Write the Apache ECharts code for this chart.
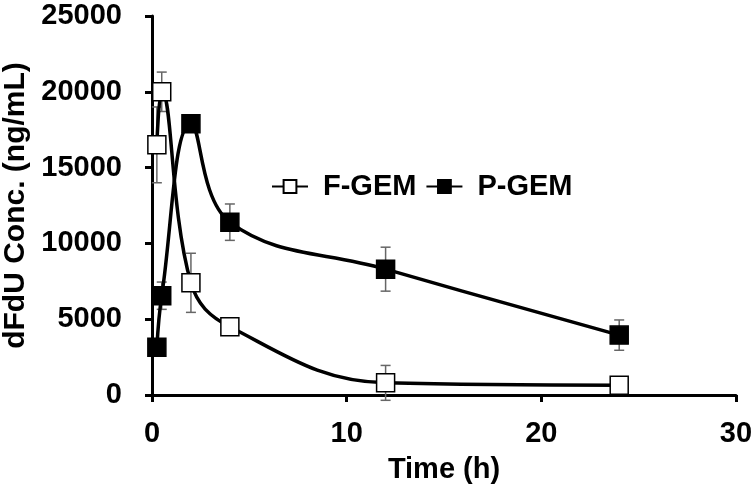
<!DOCTYPE html>
<html>
<head>
<meta charset="utf-8">
<script src="https://cdn.jsdelivr.net/npm/echarts@6/dist/echarts.min.js"></script>
<style>
  html, body { margin: 0; padding: 0; background: #fff; }
  #main { width: 755px; height: 491px; }
</style>
</head>
<body>
<div id="main"></div>
<script>
var chart = echarts.init(document.getElementById('main'));

// sampling times (h)
var times = [0.25, 0.5, 2, 4, 12, 24];
// mean concentrations and SD
var fGem = [16500, 20000, 7400, 4500, 800, 650];
var fGemErr = [2500, 1300, 1950, 300, 1150, 200];
var pGem = [3150, 6550, 17900, 11400, 8300, 3950];
var pGemErr = [400, 900, 400, 1200, 1450, 1000];

var xTicks = [0, 10, 20, 30];
var yTicks = [0, 5000, 10000, 15000, 20000, 25000];

function pairs(ys) {
    return times.map(function (t, i) { return [t, ys[i]]; });
}
function errData(ys, es) {
    return times.map(function (t, i) { return [t, ys[i] - es[i], ys[i] + es[i]]; });
}

function errorBar(params, api) {
    var lo = api.coord([api.value(0), api.value(1)]);
    var hi = api.coord([api.value(0), api.value(2)]);
    var cap = 5;
    var style = { stroke: '#666', lineWidth: 1.5 };
    return {
        type: 'group',
        children: [
            { type: 'line', shape: { x1: lo[0], y1: lo[1], x2: hi[0], y2: hi[1] }, style: style },
            { type: 'line', shape: { x1: lo[0] - cap, y1: lo[1], x2: lo[0] + cap, y2: lo[1] }, style: style },
            { type: 'line', shape: { x1: hi[0] - cap, y1: hi[1], x2: hi[0] + cap, y2: hi[1] }, style: style }
        ]
    };
}

var font = 'Liberation Sans, Arial, sans-serif';
var plain = function (v) { return String(v); };

option = {
    animation: false,
    backgroundColor: '#fff',
    grid: { left: 152, right: 19, top: 16, bottom: 96, outerBoundsMode: 'none', containLabel: false },
    legend: {
        left: 266,
        top: 167,
        itemWidth: 36,
        itemHeight: 16,
        itemGap: 9,
        textStyle: { fontFamily: font, fontWeight: 'bold', fontSize: 29, color: '#000', padding: [0, 0, 0, 10] },
        data: ['F-GEM', 'P-GEM']
    },
    xAxis: {
        type: 'value',
        min: xTicks[0],
        max: xTicks[xTicks.length - 1],
        interval: 10,
        name: 'Time (h)',
        nameLocation: 'middle',
        nameGap: 60,
        nameTextStyle: { fontFamily: font, fontWeight: 'bold', fontSize: 29, color: '#000' },
        axisLine: { lineStyle: { color: '#000', width: 3 } },
        axisTick: { inside: false, length: 7, lineStyle: { color: '#000', width: 3 } },
        axisLabel: { margin: 24, fontFamily: font, fontWeight: 'bold', fontSize: 29, color: '#000', formatter: plain },
        splitLine: { show: false }
    },
    yAxis: {
        type: 'value',
        min: yTicks[0],
        max: yTicks[yTicks.length - 1],
        interval: 5000,
        name: 'dFdU Conc. (ng/mL)',
        nameLocation: 'middle',
        nameGap: 117,
        nameTextStyle: { fontFamily: font, fontWeight: 'bold', fontSize: 30, color: '#000' },
        axisLine: { show: true, lineStyle: { color: '#000', width: 3 } },
        axisTick: { show: true, inside: false, length: 7, lineStyle: { color: '#000', width: 3 } },
        axisLabel: { margin: 30, fontFamily: font, fontWeight: 'bold', fontSize: 29, color: '#000', formatter: plain },
        splitLine: { show: false }
    },
    series: [
        {
            name: 'F-GEM err',
            type: 'custom',
            renderItem: errorBar,
            data: errData(fGem, fGemErr),
            z: 1,
            silent: true
        },
        {
            name: 'P-GEM err',
            type: 'custom',
            renderItem: errorBar,
            data: errData(pGem, pGemErr),
            z: 1,
            silent: true
        },
        {
            name: 'F-GEM',
            type: 'line',
            data: pairs(fGem),
            smooth: 0.4,
            symbol: 'rect',
            symbolSize: 18,
            showAllSymbol: true,
            lineStyle: { color: '#000', width: 3.5 },
            itemStyle: { color: '#fff', borderColor: '#000', borderWidth: 1.5 },
            z: 3
        },
        {
            name: 'P-GEM',
            type: 'line',
            data: pairs(pGem),
            smooth: 0.4,
            symbol: 'rect',
            symbolSize: 18,
            showAllSymbol: true,
            lineStyle: { color: '#000', width: 3.5 },
            itemStyle: { color: '#000', borderColor: '#000', borderWidth: 1.5 },
            z: 2
        }
    ]
};

chart.setOption(option);
</script>
</body>
</html>
